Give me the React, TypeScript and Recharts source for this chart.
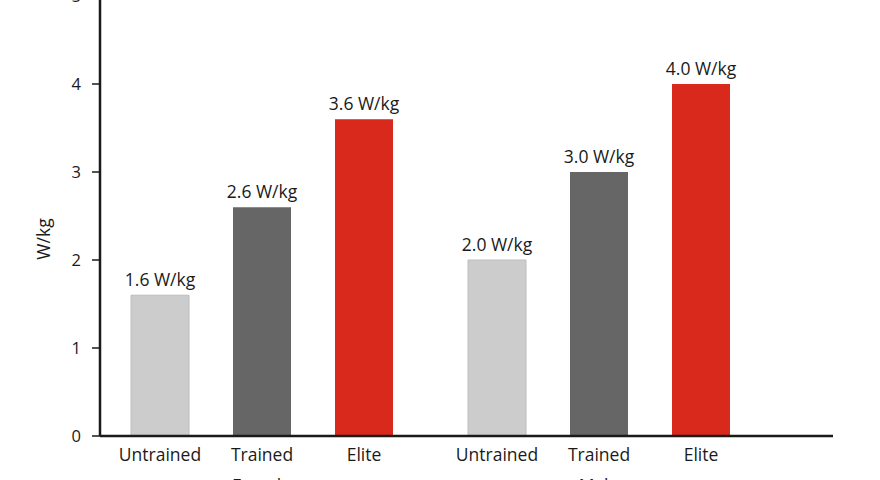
import React from 'react'
import { BarChart, Bar, XAxis, YAxis, LabelList } from 'recharts'

const GROUPS = ['Female', 'Male']
const LEVELS = ['Untrained', 'Trained', 'Elite']
const UNTRAINED = [1.6, 2.0]
const TRAINED = [2.6, 3.0]
const ELITE = [3.6, 4.0]
const Y_TICKS = [0, 1, 2, 3, 4, 5]

const FONT = '"Open Sans", sans-serif'
const INK = '#1a1a1a'
const FS = 17.5

const data = GROUPS.map((g, i) => ({
  group: g,
  untrained: UNTRAINED[i],
  trained: TRAINED[i],
  elite: ELITE[i],
}))

// level name under each bar
const levelLabel = (name: string) => (props: any) => {
  const { x, y, width, height } = props
  return (
    <text x={x + width / 2} y={y + height + 25} textAnchor="middle"
      fontSize={FS} fontFamily={FONT} fill={INK}>
      {name}
    </text>
  )
}

// value on top of each bar
const valueLabel = (props: any) => {
  const { x, y, width, value } = props
  return (
    <text x={x + width / 2} y={y - 9} textAnchor="middle"
      fontSize={FS} fontFamily={FONT} fill={INK}>
      {`${Number(value).toFixed(1)} W/kg`}
    </text>
  )
}

export default function App() {
  const series = [
    { key: 'untrained', name: LEVELS[0], fill: '#cccccc', stroke: '#bdbdbd' },
    { key: 'trained', name: LEVELS[1], fill: '#666666', stroke: 'none' },
    { key: 'elite', name: LEVELS[2], fill: '#d9291c', stroke: 'none' },
  ]

  return (
    <div style={{ position: 'absolute', left: 0, top: -20 }}>
      <BarChart
        width={880}
        height={520}
        data={data}
        margin={{ top: 16, right: 47, bottom: 4, left: 0 }}
        barSize={58}
        barGap={44}
      >
        <XAxis
          dataKey="group"
          height={60}
          padding={{ left: -7, right: 66 }}
          axisLine={{ stroke: INK, strokeWidth: 2.5 }}
          tickLine={false}
          tickSize={0}
          tickMargin={44}
          tick={{ fontSize: FS, fontFamily: FONT, fill: INK }}
        />
        <YAxis
          width={100}
          domain={[0, 5]}
          ticks={Y_TICKS}
          interval={0}
          axisLine={{ stroke: INK, strokeWidth: 2.5 }}
          tickLine={{ stroke: INK, strokeWidth: 1.5 }}
          tickSize={8}
          tickMargin={11}
          tick={{ fontSize: 16.5, fontFamily: FONT, fill: INK }}
          label={{
            content: (p: any) => {
              const vb = p.viewBox
              const cx = vb.x + 43
              const cy = vb.y + vb.height / 2 + 23
              return (
                <text x={cx} y={cy} textAnchor="middle" dominantBaseline="central"
                  transform={`rotate(-90 ${cx} ${cy})`}
                  fontSize={FS} fontFamily={FONT} fill={INK}>
                  W/kg
                </text>
              )
            },
          }}
        />
        {series.map(s => (
          <Bar
            key={s.key}
            dataKey={s.key}
            name={s.name}
            fill={s.fill}
            stroke={s.stroke}
            strokeWidth={1}
            isAnimationActive={false}
          >
            <LabelList dataKey={s.key} content={valueLabel} />
            <LabelList dataKey={s.key} content={levelLabel(s.name)} />
          </Bar>
        ))}
      </BarChart>
    </div>
  )
}
